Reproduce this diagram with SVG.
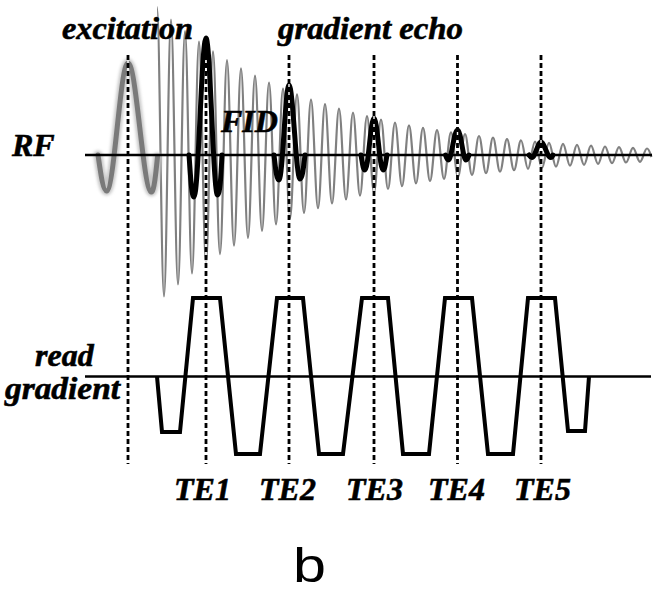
<svg xmlns="http://www.w3.org/2000/svg" width="654" height="596" viewBox="0 0 654 596">
<style>
.lbl{font-family:"Liberation Serif","Times New Roman",serif;font-weight:bold;font-style:italic;font-size:32px;fill:#000;stroke:#000;stroke-width:0.6}
.fid{fill:none;stroke:#808080;stroke-width:2.2;stroke-linejoin:round}
.exc{fill:none;stroke:#7a7a7a;stroke-width:5;stroke-linecap:round;stroke-linejoin:round}
.halo{fill:none;stroke:#c8c8c8;stroke-width:9;stroke-linecap:round}
.echo{fill:none;stroke:#000;stroke-width:5;stroke-linecap:round;stroke-linejoin:round}
.base{fill:none;stroke:#000;stroke-width:2.5}
.grad{fill:none;stroke:#000;stroke-width:4;stroke-linejoin:miter}
.dcore{stroke:#fff;stroke-width:1.4}
.dash{stroke:#000;stroke-width:2.8;stroke-dasharray:5 3}
</style>
<defs>
<filter id="blur" x="-20%" y="-20%" width="140%" height="140%"><feGaussianBlur stdDeviation="1.5"/></filter>
</defs>
<rect width="654" height="596" fill="#fff"/>

<g id="rf-signals">
<path id="fid" class="fid" d="M157 7 C159.54 7 161.46 296.5 164 296.5 S168.46 19.6 171 19.6 S175.46 284.5 178 284.5 S182.46 31.2 185 31.2 S189.46 273.4 192 273.4 S196.46 41.7 199 41.7 S203.46 263.3 206 263.3 S210.46 51.4 213 51.4 S217.46 254.1 220 254.1 S224.46 60.2 227 60.2 S231.46 245.6 234 245.6 S238.46 68.3 241 68.3 S245.46 237.9 248 237.9 S252.46 75.7 255 75.7 S259.46 230.8 262 230.8 S266.46 82.5 269 82.5 S273.46 224.4 276 224.4 S280.46 88.7 283 88.7 S287.46 218.4 290 218.4 S294.46 94.3 297 94.3 S301.46 213 304 213 S308.46 99.5 311 99.5 S315.46 208.1 318 208.1 S322.46 104.2 325 104.2 S329.46 203.5 332 203.5 S336.46 108.6 339 108.6 S343.46 199.4 346 199.4 S350.46 112.5 353 112.5 S357.46 195.6 360 195.6 S364.46 116.2 367 116.2 S371.46 192.2 374 192.2 S378.46 119.5 381 119.5 S385.46 189 388 189 S392.46 122.5 395 122.5 S399.46 186.1 402 186.1 S406.46 125.3 409 125.3 S413.46 183.4 416 183.4 S420.46 127.8 423 127.8 S427.46 181 430 181 S434.46 130.1 437 130.1 S441.46 178.8 444 178.8 S448.46 132.3 451 132.3 S455.46 176.8 458 176.8 S462.46 134.2 465 134.2 S469.46 174.9 472 174.9 S476.46 136 479 136 S483.46 173.2 486 173.2 S490.46 137.6 493 137.6 S497.46 171.7 500 171.7 S504.46 139.1 507 139.1 S511.46 170.2 514 170.2 S518.46 140.4 521 140.4 S525.46 168.9 528 168.9 S532.46 141.7 535 141.7 S539.46 167.7 542 167.7 S546.46 142.8 549 142.8 S553.46 166.7 556 166.7 S560.46 143.9 563 143.9 S567.46 165.7 570 165.7 S574.46 144.8 577 144.8 S581.46 164.8 584 164.8 S588.46 145.7 591 145.7 S595.46 163.9 598 163.9 S602.46 146.5 605 146.5 S609.46 163.2 612 163.2 S616.46 147.2 619 147.2 S623.46 162.5 626 162.5 S630.46 147.9 633 147.9 S637.46 161.8 640 161.8 S644.46 148.5 647 148.5 C649 148.5 650 153 651.5 157"/>
<g id="excitation-pulse">
<path class="halo" filter="url(#blur)" d="M98 155 C100.5 172 103 191 106.5 191 C114.3 191 120.2 63 128 63 C136.5 63 143 192 151.5 192 C154 192 156 172 157.5 157"/>
<path class="exc" d="M98 155 C100.5 172 103 191 106.5 191 C114.3 191 120.2 63 128 63 C136.5 63 143 192 151.5 192 C154 192 156 172 157.5 157"/>
</g>
<g id="echoes">
<path class="echo" d="M189 155 C190.5 175 191.5 197 194 197 C198.4 197 201.6 38 206 38 C210.2 38 213.3 195 217.5 195 C220 195 221 175 222 155"/>
<path class="echo" d="M274 155 C275.5 168 276.5 180 279 180 C282.6 180 285.4 85 289 85 C293 85 296 179 300 179 C302.5 179 303.5 167 305 155"/>
<path class="echo" d="M361 155 C362.5 163 363 170 365 170 C368.3 170 370.7 118 374 118 C377.3 118 379.7 170 383 170 C385 170 385.5 163 387 155"/>
<path class="echo" d="M445.5 155 C446.5 158 447 160 448.5 160 C451.5 160 454 130 457.5 130 C461 130 463 160 466 160 C467.5 160 468 158 469 155"/>
<path class="echo" d="M529 155 C530 156.5 530.5 157.5 532 157.5 C535 157.5 538 142 541 142 C544 142 547.5 157.5 550.5 157.5 C552 157.5 552.5 156.5 553 155"/>
</g>
</g>

<g id="time-markers">
<g class="dcore">
<line x1="128" y1="55" x2="128" y2="464"/>
<line x1="206" y1="55" x2="206" y2="464"/>
<line x1="289" y1="55" x2="289" y2="464"/>
<line x1="374" y1="55" x2="374" y2="464"/>
<line x1="457.5" y1="55" x2="457.5" y2="464"/>
<line x1="541" y1="55" x2="541" y2="464"/>
</g>
<g class="dash">
<line x1="128" y1="55" x2="128" y2="464"/>
<line x1="206" y1="55" x2="206" y2="464"/>
<line x1="289" y1="55" x2="289" y2="464"/>
<line x1="374" y1="55" x2="374" y2="464"/>
<line x1="457.5" y1="55" x2="457.5" y2="464"/>
<line x1="541" y1="55" x2="541" y2="464"/>
</g>
</g>

<g id="rf-axis">
<line class="base" x1="85" y1="155" x2="652" y2="155"/>
</g>

<g id="read-gradient">
<line class="base" x1="85" y1="376.5" x2="651" y2="376.5"/>
<path class="grad" d="M157 376.5 L162 432 L180 432 L193 298 L220 298 L236 454 L260 454 L277 298 L303 298 L319 454 L343 454 L362 298 L388 298 L403 454 L429 454 L445 298 L472 298 L488 454 L513 454 L528 298 L555 298 L568 431 L585 431 L589 376.5"/>
</g>

<g id="labels">
<text class="lbl" x="62" y="39" textLength="131" lengthAdjust="spacingAndGlyphs">excitation</text>
<text class="lbl" x="278" y="39" textLength="185" lengthAdjust="spacingAndGlyphs">gradient echo</text>
<text class="lbl" x="221" y="132">FID</text>
<text class="lbl" x="12" y="156">RF</text>
<text class="lbl" x="35" y="366">read</text>
<text class="lbl" x="5" y="399" textLength="115" lengthAdjust="spacingAndGlyphs">gradient</text>
<text class="lbl" x="174" y="500">TE1</text>
<text class="lbl" x="259" y="500">TE2</text>
<text class="lbl" x="346" y="500">TE3</text>
<text class="lbl" x="428" y="500">TE4</text>
<text class="lbl" x="514" y="500">TE5</text>
<text x="293" y="582" font-family="Liberation Sans, Arial, sans-serif" font-size="49" textLength="33" lengthAdjust="spacingAndGlyphs">b</text>
</g>
</svg>
